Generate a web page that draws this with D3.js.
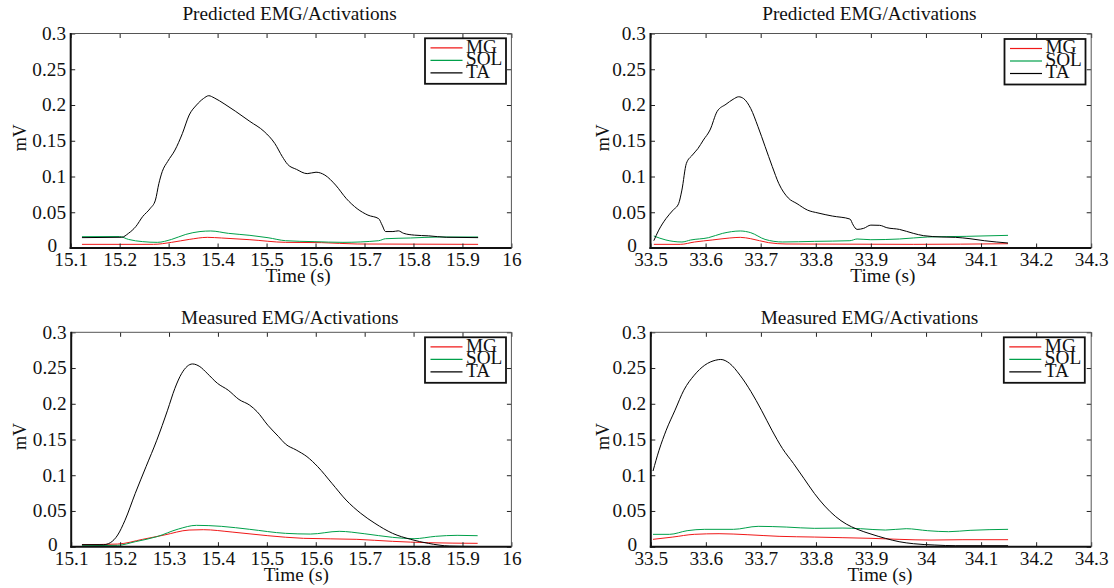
<!DOCTYPE html>
<html><head><meta charset="utf-8">
<script src="https://cdn.jsdelivr.net/npm/d3@7"></script>
<style>
body{margin:0;background:#fff;}
svg{display:block;}
text{font-family:"Liberation Serif","Times New Roman",serif;fill:#111;}
</style></head>
<body>
<svg id="c" width="1114" height="588"></svg>
<script>
// ---------- data ----------
const seriesNames = ["MG","SOL","TA"];
const seriesColors = ["#f01818","#00a04a","#000000"];
const yTicks = [0,0.05,0.1,0.15,0.2,0.25,0.3];
const yTickLabels = ["0","0.05","0.1","0.15","0.2","0.25","0.3"];
const xTicksA = [15.1,15.2,15.3,15.4,15.5,15.6,15.7,15.8,15.9,16];
const xTickLabelsA = ["15.1","15.2","15.3","15.4","15.5","15.6","15.7","15.8","15.9","16"];
const xTicksB = [33.5,33.6,33.7,33.8,33.9,34,34.1,34.2,34.3];
const xTickLabelsB = ["33.5","33.6","33.7","33.8","33.9","34","34.1","34.2","34.3"];
const titles = ["Predicted EMG/Activations","Predicted EMG/Activations","Measured EMG/Activations","Measured EMG/Activations"];

// Panel 1: predicted, 15.1-16 s
const p1_TA_t = [15.123,15.204,15.218,15.233,15.247,15.262,15.273,15.280,15.287,15.298,15.313,15.328,15.342,15.357,15.371,15.382,15.393,15.415,15.437,15.466,15.495,15.517,15.532,15.543,15.561,15.583,15.601,15.619,15.641,15.663,15.685,15.707,15.729,15.736,15.743,15.758,15.769,15.780,15.802,15.831,15.867,15.932];
const p1_TA_v = [0.0145,0.015,0.0205,0.030,0.044,0.055,0.067,0.090,0.107,0.121,0.137,0.160,0.186,0.200,0.209,0.213,0.210,0.201,0.191,0.177,0.163,0.146,0.128,0.117,0.110,0.104,0.106,0.102,0.088,0.069,0.055,0.046,0.041,0.032,0.023,0.023,0.024,0.0205,0.018,0.017,0.015,0.0145];
const p1_SOL_t = [15.123,15.200,15.218,15.247,15.277,15.306,15.335,15.364,15.386,15.422,15.466,15.503,15.539,15.597,15.656,15.729,15.743,15.794,15.853,15.932];
const p1_SOL_v = [0.0158,0.016,0.012,0.0089,0.0079,0.012,0.019,0.023,0.0238,0.0205,0.0177,0.0144,0.0102,0.0089,0.0079,0.0102,0.013,0.014,0.0154,0.0154];
const p1_MG_t = [15.123,15.269,15.306,15.342,15.379,15.408,15.466,15.539,15.612,15.685,15.932];
const p1_MG_v = [0.0051,0.0051,0.0079,0.012,0.0149,0.014,0.0116,0.0079,0.0075,0.0056,0.0051];

// Panel 2: predicted, 33.5-34.3 s
const p2_TA_t = [33.506,33.515,33.528,33.541,33.551,33.557,33.565,33.576,33.586,33.596,33.608,33.621,33.637,33.650,33.660,33.669,33.682,33.695,33.708,33.721,33.733,33.750,33.766,33.785,33.804,33.830,33.862,33.868,33.875,33.887,33.900,33.916,33.929,33.952,33.977,33.996,34.029,34.054,34.080,34.106,34.149];
const p2_TA_v = [0.0102,0.025,0.041,0.053,0.062,0.081,0.118,0.130,0.139,0.151,0.165,0.191,0.201,0.208,0.2115,0.209,0.195,0.170,0.142,0.114,0.090,0.070,0.062,0.053,0.049,0.0447,0.0405,0.032,0.026,0.0275,0.032,0.0317,0.0284,0.026,0.0205,0.0172,0.0154,0.0149,0.013,0.0102,0.007];
const p2_SOL_t = [33.506,33.528,33.557,33.573,33.605,33.631,33.663,33.682,33.708,33.740,33.798,33.862,33.875,33.900,33.952,34.003,34.073,34.149];
const p2_SOL_v = [0.0168,0.0112,0.0084,0.0112,0.0144,0.0205,0.0238,0.0214,0.012,0.0084,0.0093,0.0102,0.0126,0.0116,0.0126,0.0154,0.0163,0.0177];
const p2_MG_t = [33.506,33.554,33.580,33.612,33.644,33.663,33.682,33.714,33.746,33.977,34.149];
const p2_MG_v = [0.0051,0.0051,0.0084,0.0112,0.014,0.0149,0.013,0.0075,0.0056,0.0051,0.006];

// Panel 3: measured, 15.1-16 s
const p3_TA_t = [15.122,15.166,15.180,15.195,15.210,15.231,15.253,15.275,15.297,15.312,15.326,15.348,15.363,15.378,15.399,15.421,15.443,15.465,15.480,15.502,15.524,15.538,15.560,15.582,15.604,15.633,15.662,15.692,15.721,15.757,15.794,15.830,15.874,15.931];
const p3_TA_v = [0.0028,0.0028,0.0056,0.0163,0.037,0.0747,0.112,0.149,0.191,0.2216,0.2426,0.2557,0.252,0.2426,0.2286,0.219,0.206,0.198,0.189,0.170,0.154,0.1437,0.1353,0.126,0.112,0.0887,0.0653,0.0467,0.0327,0.0187,0.0103,0.0047,0.0009,0.0003];
const p3_SOL_t = [15.122,15.195,15.231,15.275,15.319,15.356,15.407,15.465,15.538,15.589,15.648,15.699,15.757,15.801,15.845,15.889,15.931];
const p3_SOL_v = [0.0014,0.0019,0.007,0.014,0.0247,0.0299,0.0285,0.0243,0.0187,0.0177,0.0215,0.0182,0.0131,0.0112,0.0145,0.0159,0.0154];
const p3_MG_t = [15.122,15.195,15.246,15.290,15.341,15.370,15.429,15.502,15.575,15.684,15.757,15.830,15.931];
const p3_MG_v = [0.0028,0.0037,0.0103,0.0163,0.0233,0.0238,0.0205,0.0154,0.0117,0.0103,0.0075,0.0056,0.0047];

// Panel 4: measured, 33.5-34.3 s
const p4_TA_t = [33.504,33.515,33.528,33.544,33.560,33.579,33.598,33.618,33.627,33.643,33.662,33.682,33.701,33.720,33.739,33.759,33.778,33.797,33.816,33.836,33.855,33.874,33.900,33.926,33.951,33.977,34.016,34.054,34.149];
const p4_TA_v = [0.1059,0.135,0.163,0.191,0.219,0.240,0.254,0.261,0.262,0.2566,0.240,0.217,0.191,0.163,0.1376,0.1166,0.0957,0.0747,0.0569,0.042,0.0317,0.0247,0.0177,0.0117,0.007,0.0042,0.0023,0.0014,0.0014];
const p4_SOL_t = [33.504,33.534,33.566,33.598,33.650,33.695,33.746,33.797,33.849,33.881,33.926,33.964,34.003,34.041,34.080,34.149];
const p4_SOL_v = [0.0173,0.0173,0.0224,0.0243,0.0243,0.0285,0.0275,0.0257,0.0261,0.0252,0.0233,0.0252,0.0224,0.021,0.0229,0.0243];
const p4_MG_t = [33.504,33.540,33.579,33.624,33.675,33.733,33.797,33.849,33.900,33.951,34.009,34.067,34.149];
const p4_MG_v = [0.0103,0.0135,0.0173,0.0182,0.0168,0.0145,0.0135,0.0126,0.0117,0.0103,0.0093,0.0098,0.0098];

// ---------- layout ----------
const panels = [
  {box:[70.7,33.5,511.4,248], xd:[15.1,16], xt:xTicksA, xl:xTickLabelsA, title:titles[0], titleY:20, mvX:19.5, timeDx:7,
   leg:[425,38.3], s:[[p1_MG_t,p1_MG_v],[p1_SOL_t,p1_SOL_v],[p1_TA_t,p1_TA_v]]},
  {box:[650.5,33.5,1091.2,248], xd:[33.5,34.3], xt:xTicksB, xl:xTickLabelsB, title:titles[1], titleY:20, mvX:602.5, timeDx:12,
   leg:[1004.5,39], s:[[p2_MG_t,p2_MG_v],[p2_SOL_t,p2_SOL_v],[p2_TA_t,p2_TA_v]]},
  {box:[71.2,332.3,511.4,546.7], xd:[15.1,16], xt:xTicksA, xl:xTickLabelsA, title:titles[2], titleY:324, mvX:19.5, timeDx:5,
   leg:[425,337.3], s:[[p3_MG_t,p3_MG_v],[p3_SOL_t,p3_SOL_v],[p3_TA_t,p3_TA_v]]},
  {box:[650.8,332.3,1091.2,546.7], xd:[33.5,34.3], xt:xTicksB, xl:xTickLabelsB, title:titles[3], titleY:324, mvX:602.5, timeDx:9,
   leg:[1003.8,337.3], s:[[p4_MG_t,p4_MG_v],[p4_SOL_t,p4_SOL_v],[p4_TA_t,p4_TA_v]]}
];

const svg = d3.select("#c");
const FS = 18;   // font size
const SX = 1.07; // horizontal stretch of the original figure

function label(g, x, y, str, anchor) {
  return g.append("text")
    .attr("transform", `translate(${x},${y}) scale(${SX},1)`)
    .attr("text-anchor", anchor)
    .style("font-size", FS + "px")
    .text(str);
}

panels.forEach(p => {
  const [x0,y0,x1,y1] = p.box;
  const x = d3.scaleLinear().domain(p.xd).range([x0,x1]);
  const y = d3.scaleLinear().domain([0,0.3]).range([y1,y0]);
  const g = svg.append("g");

  // lines
  p.s.forEach((ser,i) => {
    const pts = ser[0].map((t,k)=>[t,ser[1][k]]);
    g.append("path").datum(pts)
      .attr("fill","none").attr("stroke",seriesColors[i])
      .attr("stroke-width",1)
      .attr("d", d3.line().x(d=>x(d[0])).y(d=>y(d[1])).curve(d3.curveMonotoneX));
  });

  // axes with inward ticks
  const tl = 4.5;
  const xb = d3.axisBottom(x).tickValues(p.xt).tickSize(-tl).tickPadding(9).tickFormat((d,i)=>p.xl[i]);
  const xtop = d3.axisTop(x).tickValues(p.xt).tickSize(-tl).tickFormat("");
  const yl = d3.axisLeft(y).tickValues(yTicks).tickSize(-tl).tickPadding(9).tickFormat((d,i)=>yTickLabels[i]);
  const yr = d3.axisRight(y).tickValues(yTicks).tickSize(-tl).tickFormat("");

  const gxb = g.append("g").attr("transform",`translate(0,${y1})`).call(xb);
  const gxt = g.append("g").attr("transform",`translate(0,${y0})`).call(xtop);
  const gyl = g.append("g").attr("transform",`translate(${x0},0)`).call(yl);
  const gyr = g.append("g").attr("transform",`translate(${x1},0)`).call(yr);
  [gxb,gxt,gyl,gyr].forEach(a=>{
    a.select(".domain").remove();
    a.selectAll(".tick line").attr("stroke","#222").attr("stroke-width",1);
    a.selectAll("text").style("font-family","Liberation Serif").style("font-size",FS+"px")
      .attr("fill","#111").attr("transform",`scale(${SX},1)`);
  });
  gxb.selectAll(".tick text").attr("dy","0.71em").attr("y",5.5);
  gyl.selectAll(".tick text").attr("x",d => d===0 ? -13.7/SX : -4.7/SX).attr("dy", d => d===0 ? "0.22em" : "0.33em");

  // frame
  g.append("line").attr("x1",x0).attr("x2",x1).attr("y1",y0).attr("y2",y0).attr("stroke","#555").attr("stroke-width",1);
  g.append("line").attr("x1",x1).attr("x2",x1).attr("y1",y0).attr("y2",y1).attr("stroke","#555").attr("stroke-width",1);
  g.append("line").attr("x1",x0).attr("x2",x0).attr("y1",y0-0.5).attr("y2",y1+1).attr("stroke","#111").attr("stroke-width",2);
  g.append("line").attr("x1",x0-1).attr("x2",x1).attr("y1",y1).attr("y2",y1).attr("stroke","#111").attr("stroke-width",2);

  // title, x label
  label(g, (x0+x1)/2 - 1.5, p.titleY, p.title, "middle");
  label(g, (x0+x1)/2 + p.timeDx, y1+34, "Time (s)", "middle");
  // y label
  g.append("text").attr("transform",`translate(${p.mvX+6},${(y0+y1)/2-3}) rotate(-90)`)
    .attr("text-anchor","middle").style("font-size",FS+"px").text("mV");

  // legend
  const [lx,ly] = p.leg;
  const lg = g.append("g").attr("transform",`translate(${lx},${ly})`);
  lg.append("rect").attr("x",0).attr("y",0).attr("width",81).attr("height",45.5)
    .attr("fill","#fff").attr("stroke","#111").attr("stroke-width",1.8);
  seriesNames.forEach((n,i)=>{
    const ry = 9.5 + i*12.5;
    lg.append("line").attr("x1",5.5).attr("x2",37.5).attr("y1",ry).attr("y2",ry)
      .attr("stroke",seriesColors[i]).attr("stroke-width",1.2);
    label(lg, 41, ry+4.8, n, "start");
  });
});
</script>
</body></html>
